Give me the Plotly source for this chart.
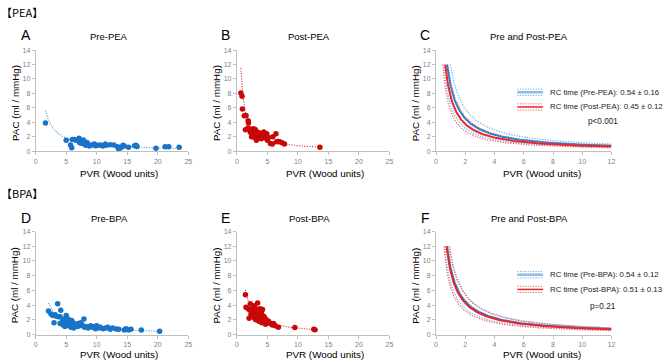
import numpy as np
import plotly.graph_objects as go

W, H = 669, 364

# ---------------- data ----------------
pre_pea_pvr = [1.6, 5.0, 5.7, 5.9, 6.0, 6.3, 6.6, 7.1, 7.2, 7.4, 7.8, 7.9, 8.2, 8.4, 8.6, 8.8,
               9.0, 9.4, 9.6, 9.8, 10.2, 10.6, 11.0, 11.4, 11.6, 12.2, 12.8, 13.4, 13.6, 13.8,
               14.0, 14.3, 14.5, 15.2, 16.2, 16.4, 16.6, 19.7, 21.2, 21.8, 23.5]
pre_pea_pac = [3.9, 1.5, 0.86, 0.45, 1.6, 1.6, 1.5, 1.8, 1.2, 1.1, 1.55, 1.0, 0.8, 1.2, 0.9, 0.7,
               0.8, 0.9, 1.0, 0.75, 0.8, 0.85, 0.7, 1.0, 0.8, 0.9, 0.85, 0.6, 0.3, 0.5,
               0.5, 0.8, 0.7, 0.55, 0.75, 0.8, 0.65, 0.4, 0.6, 0.6, 0.55]

post_pea_pvr = [0.65, 0.85, 0.9, 1.2, 1.5, 1.85, 1.9, 1.4, 1.8, 2.0, 2.2, 2.3, 2.4, 2.5, 2.6, 2.7,
                2.8, 2.9, 3.0, 3.0, 3.1, 3.2, 3.3, 3.4, 3.5, 3.6, 3.7, 3.8, 3.9, 4.0, 4.1, 4.2,
                4.3, 4.4, 4.6, 4.8, 4.9, 5.0, 5.2, 5.5, 5.8, 5.9, 6.4, 6.5, 6.8, 7.0, 7.4, 7.8, 13.6]
post_pea_pac = [8.05, 7.6, 5.85, 4.9, 4.95, 4.2, 3.9, 2.95, 3.2, 3.1, 2.6, 3.0, 2.0, 2.5, 2.9, 3.1,
                2.2, 1.9, 2.7, 3.0, 2.4, 1.5, 2.1, 2.6, 2.3, 1.8, 2.5, 2.0, 2.2, 1.7, 2.0, 2.3,
                1.9, 2.65, 2.1, 1.8, 2.4, 1.5, 1.9, 1.05, 1.0, 2.0, 2.4, 1.3, 1.35, 1.3, 1.15, 1.0, 0.55]

pre_bpa_pvr = [2.1, 2.5, 2.8, 3.0, 3.2, 3.4, 3.6, 3.7, 4.0, 4.1, 4.0, 4.3, 4.4, 4.5, 4.6, 4.7,
               4.8, 4.9, 5.0, 5.0, 5.1, 5.2, 5.3, 5.4, 5.5, 5.6, 5.7, 5.8, 5.9, 6.0, 6.1, 6.2,
               6.4, 6.6, 6.8, 7.0, 7.2, 7.4, 7.6, 7.9, 8.0, 8.3, 8.6, 9.0, 9.3, 9.6, 9.8, 10.0,
               10.3, 10.6, 11.0, 11.5, 11.8, 12.2, 12.6, 13.2, 13.6, 14.5, 14.8, 15.2, 15.6, 17.3, 20.3]
pre_bpa_pac = [3.2, 2.8, 2.6, 1.6, 2.7, 2.5, 4.2, 2.4, 2.4, 3.3, 1.5, 1.6, 1.8, 1.3, 2.0, 1.5,
               1.1, 1.7, 2.3, 2.6, 1.9, 1.4, 2.1, 1.6, 1.2, 1.8, 1.5, 1.0, 1.9, 1.3, 1.6, 0.9,
               1.2, 1.4, 1.1, 1.5, 1.2, 1.6, 1.3, 2.1, 1.0, 1.1, 0.9, 1.2, 1.0, 1.1, 0.8, 1.2,
               0.9, 1.0, 0.8, 0.9, 1.0, 0.7, 0.9, 0.75, 0.7, 0.6, 0.8, 0.6, 0.7, 0.6, 0.45]

post_bpa_pvr = [1.4, 1.5, 1.7, 2.0, 2.2, 2.0, 2.3, 2.5, 2.6, 2.7, 2.8, 2.9, 3.0, 3.0, 3.1, 3.2,
                3.3, 3.4, 3.4, 3.5, 3.6, 3.7, 3.8, 3.9, 4.0, 4.1, 4.2, 4.3, 4.4, 4.5, 4.6, 4.7,
                4.8, 5.0, 5.2, 5.5, 5.8, 6.0, 6.3, 6.8, 9.5, 12.6, 12.8]
post_bpa_pac = [5.4, 3.7, 3.6, 3.4, 4.2, 2.2, 2.8, 3.5, 2.5, 3.1, 3.9, 2.2, 2.6, 3.6, 2.0, 3.3,
                2.8, 4.3, 2.4, 3.0, 1.8, 2.6, 3.5, 2.2, 2.9, 1.6, 3.4, 2.0, 2.5, 1.8, 2.2, 1.4,
                2.0, 1.6, 1.8, 1.5, 1.3, 1.5, 1.2, 1.0, 0.95, 0.7, 0.65]

# RC time (s) mean and SD shown in the legends; RC = PVR * PAC * 0.06
rc_pre_pea, sd_pre_pea = 0.54, 0.16
rc_post_pea, sd_post_pea = 0.45, 0.12
rc_pre_bpa, sd_pre_bpa = 0.54, 0.12
rc_post_bpa, sd_post_bpa = 0.51, 0.13
p_pea = "p<0.001"
p_bpa = "p=0.21"
RC_FACTOR = 0.06
CURVE_TOP = 12.0
CURVE_XMAX = 12.0

# ---------------- style ----------------
BLUE = "#1874c8"
RED = "#c80808"
BLUE_FIT = "#5b9bd5"
RED_FIT = "#e03838"
BLUE_LINE = "#3a7fcc"
RED_LINE = "#e8262b"
BLUE_DOT = "#6aaee6"
RED_DOT = "#f06060"
AXC = "#bfbfbf"
TICKC = "#7f7f7f"
FONT = "Liberation Sans, Arial, sans-serif"
FINE_DOT = "1.2px,1.4px"


def px(x):
    return x / W


def py(y):
    return 1 - y / H


def hyper(rc, x0, x1, n=200):
    k = rc / RC_FACTOR
    xs = np.geomspace(x0, x1, n)
    return xs, k / xs


fig = go.Figure()

# panel geometry (pixels): x-domain, row y-domain
cols = [(34, 188), (237, 391), (438, 615)]
rows = [(47, 150), (232, 337)]

panel_ids = {}
n = 0
for r, (yt, yb) in enumerate(rows):
    for c, (xl, xr) in enumerate(cols):
        n += 1
        sfx = "" if n == 1 else str(n)
        panel_ids[(r, c)] = sfx
        xmax = 12 if c == 2 else 25
        dtick = 2 if c == 2 else 5
        common = dict(showline=True, linecolor=AXC, linewidth=1, ticks="outside",
                      ticklen=3, tickcolor=AXC, tickwidth=1,
                      tickfont=dict(size=7, color=TICKC, family=FONT),
                      showgrid=False, zeroline=False, fixedrange=True)
        fig.layout["xaxis" + sfx] = dict(domain=[px(xl), px(xr)], range=[0, xmax], dtick=dtick,
                                         anchor="y" + sfx, **common)
        fig.layout["yaxis" + sfx] = dict(domain=[py(yb), py(yt)], range=[0, 14], dtick=2,
                                         anchor="x" + sfx, **common)


def add_scatter_panel(sfx, pvr, pac, rc, color, fitcolor):
    xs, ys = hyper(rc, min(pvr), max(pvr))
    fig.add_trace(go.Scatter(x=xs, y=ys, mode="lines", line=dict(color=fitcolor, width=1.1, dash=FINE_DOT),
                             xaxis="x" + sfx, yaxis="y" + sfx, showlegend=False, hoverinfo="skip"))
    fig.add_trace(go.Scatter(x=pvr, y=pac, mode="markers", marker=dict(color=color, size=5.5),
                             xaxis="x" + sfx, yaxis="y" + sfx, showlegend=False))


add_scatter_panel(panel_ids[(0, 0)], pre_pea_pvr, pre_pea_pac, rc_pre_pea, BLUE, BLUE_FIT)
add_scatter_panel(panel_ids[(0, 1)], post_pea_pvr, post_pea_pac, rc_post_pea, RED, RED_FIT)
add_scatter_panel(panel_ids[(1, 0)], pre_bpa_pvr, pre_bpa_pac, rc_pre_bpa, BLUE, BLUE_FIT)
add_scatter_panel(panel_ids[(1, 1)], post_bpa_pvr, post_bpa_pac, rc_post_bpa, RED, RED_FIT)


def add_curve_panel(sfx, rc_a, sd_a, rc_b, sd_b):
    # dotted bands first
    for rc, col in [(rc_a + sd_a, BLUE_DOT), (rc_a - sd_a, BLUE_DOT),
                    (rc_b + sd_b, RED_DOT), (rc_b - sd_b, RED_DOT)]:
        x0 = rc / RC_FACTOR / CURVE_TOP
        xs, ys = hyper(rc, x0, CURVE_XMAX)
        fig.add_trace(go.Scatter(x=xs, y=ys, mode="lines", line=dict(color=col, width=1.2, dash=FINE_DOT),
                                 xaxis="x" + sfx, yaxis="y" + sfx, showlegend=False, hoverinfo="skip"))
    for rc, col in [(rc_a, BLUE_LINE), (rc_b, RED_LINE)]:
        x0 = rc / RC_FACTOR / CURVE_TOP
        xs, ys = hyper(rc, x0, CURVE_XMAX)
        fig.add_trace(go.Scatter(x=xs, y=ys, mode="lines", line=dict(color=col, width=2),
                                 xaxis="x" + sfx, yaxis="y" + sfx, showlegend=False, hoverinfo="skip"))


add_curve_panel(panel_ids[(0, 2)], rc_pre_pea, sd_pre_pea, rc_post_pea, sd_post_pea)
add_curve_panel(panel_ids[(1, 2)], rc_pre_bpa, sd_pre_bpa, rc_post_bpa, sd_post_bpa)

annotations = []
shapes = []


def text(x, y, s, size, color="black", anchor="center", family=FONT, angle=0):
    annotations.append(dict(x=px(x), y=py(y), xref="paper", yref="paper", text=s, showarrow=False,
                            xanchor=anchor, yanchor="middle", textangle=angle,
                            font=dict(size=size, color=color, family=family)))


# section labels
text(-3, 8, "【PEA】", 11, anchor="left", family="Noto Sans CJK JP")
text(-3, 193, "【BPA】", 11, anchor="left", family="Noto Sans CJK JP")

titles = [["Pre-PEA", "Post-PEA", "Pre and Post-PEA"], ["Pre-BPA", "Post-BPA", "Pre and Post-BPA"]]
letters = [["A", "B", "C"], ["D", "E", "F"]]
title_x = [108, 310, 532]
letter_x = [24, 226, 427]
xtitle_x = [118, 326, 545]
ytitle_x = [13, 216, 417]
row_title_y = [33, 219]
row_letter_y = [32, 218]
row_xtitle_y = [173, 357]
row_ytitle_y = [101, 287]

for r in range(2):
    for c in range(3):
        text(title_x[c], row_title_y[r], titles[r][c], 9.5)
        text(letter_x[c], row_letter_y[r], letters[r][c], 14)
        text(xtitle_x[c], row_xtitle_y[r], "PVR (Wood units)", 9.8)
        text(ytitle_x[c], row_ytitle_y[r], "PAC (ml / mmHg)", 9.8, angle=-90)


def legend_block(y1, y2, yp, lab1, lab2, ptxt):
    x0, x1 = 520, 546
    for yy, col, w, d in [(y1 - 3.2, BLUE_DOT, 1, FINE_DOT), (y1 + 3.2, BLUE_DOT, 1, FINE_DOT),
                          (y1, "#8fbce6", 2.5, "solid"),
                          (y2 - 3.2, RED_DOT, 1, FINE_DOT), (y2 + 3.2, RED_DOT, 1, FINE_DOT),
                          (y2, RED_LINE, 1.5, "solid")]:
        shapes.append(dict(type="line", xref="paper", yref="paper", x0=px(x0), x1=px(x1),
                           y0=py(yy), y1=py(yy), line=dict(color=col, width=w, dash=d)))
    text(551, y1, lab1, 7.8, color="#222222", anchor="left")
    text(551, y2, lab2, 7.8, color="#222222", anchor="left")
    text(606, yp, ptxt, 8.2, color="#222222")


legend_block(90, 105, 120,
             f"RC time (Pre-PEA): {rc_pre_pea:.2f} ± {sd_pre_pea:.2f}",
             f"RC time (Post-PEA): {rc_post_pea:.2f} ± {sd_post_pea:.2f}", p_pea)
legend_block(276, 291, 308,
             f"RC time (Pre-BPA): {rc_pre_bpa:.2f} ± {sd_pre_bpa:.2f}",
             f"RC time (Post-BPA): {rc_post_bpa:.2f} ± {sd_post_bpa:.2f}", p_bpa)

fig.update_layout(width=W, height=H, margin=dict(l=0, r=0, t=0, b=0),
                  paper_bgcolor="white", plot_bgcolor="white",
                  annotations=annotations, shapes=shapes, showlegend=False,
                  font=dict(family=FONT))

fig.write_html("out.html", config={"displayModeBar": False},
               post_script="document.body.style.margin='0';document.body.style.overflow='hidden';")
